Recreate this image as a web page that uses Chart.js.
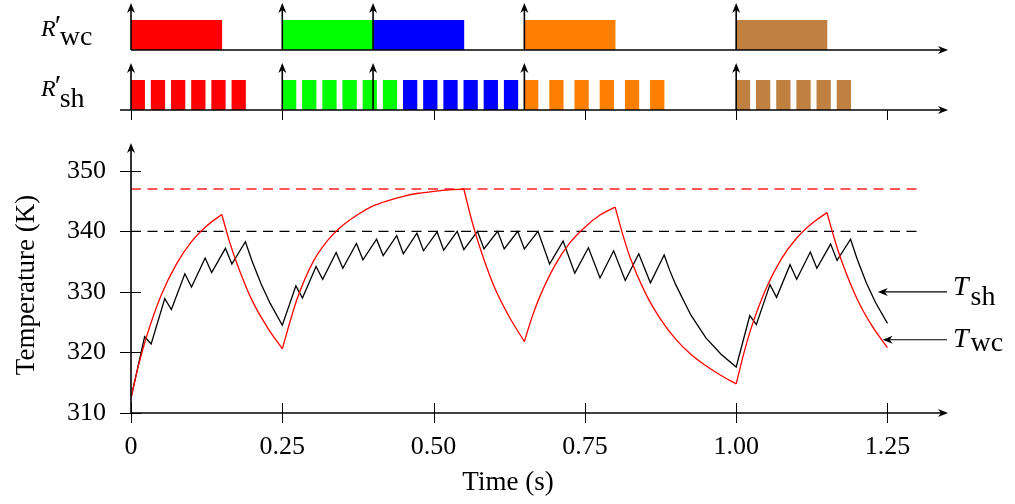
<!DOCTYPE html>
<html>
<head>
<meta charset="utf-8">
<script src="https://cdn.jsdelivr.net/npm/chart.js@4.4.1/dist/chart.umd.min.js"></script>
<style>
  body { margin: 0; background: #fff; }
  #wrap { position: relative; width: 1015px; height: 504px; }
  #wrap canvas { position: absolute; left: 0; }
</style>
</head>
<body>
<div id="wrap">
  <canvas id="wcChart" width="1015" height="60" style="top:0"></canvas>
  <canvas id="shChart" width="1015" height="62" style="top:60px"></canvas>
  <canvas id="tempChart" width="1015" height="384" style="top:120px"></canvas>
</div>
<script>
// time axis
const xMax = 1.35;
const timeTicks = [0, 0.25, 0.5, 0.75, 1.0, 1.25];
const timeTickLabels = ['0', '0.25', '0.50', '0.75', '1.00', '1.25'];
const tempTicks = [310, 320, 330, 340, 350];
const eventTimes = [0, 0.25, 0.4, 0.65, 1.0];
const phaseColors = ['#ff0000', '#00ff00', '#0000ff', '#ff8000', '#bf8040'];

// R'wc: one block per phase
const wcStart = [0, 0.25, 0.4, 0.65, 1.0];
const wcEnd = [0.15, 0.4, 0.55, 0.8, 1.15];

// R'sh: pulses per phase
const shStart = [
  [0, 0.0333, 0.0667, 0.1, 0.1333, 0.1667],
  [0.25, 0.2833, 0.3167, 0.35, 0.3833, 0.4167],
  [0.45, 0.4833, 0.5167, 0.55, 0.5833, 0.6167],
  [0.65, 0.6917, 0.7333, 0.775, 0.8167, 0.8583],
  [1.0, 1.0333, 1.0667, 1.1, 1.1333, 1.1667]
];
const shEnd = [
  [0.0225, 0.0558, 0.0892, 0.1225, 0.1558, 0.1892],
  [0.2725, 0.3058, 0.3392, 0.3725, 0.4058, 0.4392],
  [0.4725, 0.5058, 0.5392, 0.5725, 0.6058, 0.6392],
  [0.6725, 0.7142, 0.7558, 0.7975, 0.8392, 0.8808],
  [1.0225, 1.0558, 1.0892, 1.1225, 1.1558, 1.1892]
];

// T_wc (red)
const wcTime = [0, 0.0125, 0.025, 0.05, 0.075, 0.1, 0.125, 0.15,
  0.1625, 0.175, 0.2, 0.225, 0.25,
  0.2625, 0.275, 0.3, 0.325, 0.35, 0.375, 0.4, 0.425, 0.45, 0.475, 0.5, 0.525, 0.55,
  0.5625, 0.575, 0.6, 0.625, 0.65,
  0.6625, 0.675, 0.7, 0.725, 0.75, 0.775, 0.8,
  0.8125, 0.825, 0.85, 0.875, 0.9, 0.925, 0.95, 0.975, 1.0,
  1.0125, 1.025, 1.05, 1.075, 1.1, 1.125, 1.15,
  1.1625, 1.175, 1.2, 1.225, 1.25];
const wcTemp = [312.5, 317.9, 322.4, 329.5, 334.6, 338.3, 340.9, 342.8,
  338.4, 334.7, 328.6, 324.2, 320.6,
  325.0, 329.0, 334.8, 338.5, 341.0, 342.8, 344.2, 345.1, 345.8, 346.3, 346.6, 346.85, 347.0,
  342.0, 337.8, 330.9, 325.9, 321.8,
  325.8, 329.1, 334.3, 338.1, 340.7, 342.7, 344.0,
  339.5, 335.6, 329.8, 325.5, 322.2, 319.7, 317.8, 316.2, 314.8,
  319.8, 324.1, 330.7, 335.5, 338.9, 341.3, 343.1,
  338.7, 334.9, 328.8, 324.3, 320.8];

// T_sh (black)
const shTime = [0, 0.011, 0.0225, 0.0333, 0.0558, 0.0667, 0.089, 0.1, 0.1225, 0.1333, 0.156, 0.1667, 0.189,
  0.2, 0.215, 0.23, 0.25,
  0.2725, 0.2833, 0.3058, 0.3167, 0.339, 0.35, 0.3725, 0.3833, 0.4058, 0.4167, 0.439, 0.45,
  0.4725, 0.4833, 0.5058, 0.5167, 0.539, 0.55, 0.5725, 0.5833, 0.6058, 0.6167, 0.639, 0.65,
  0.6725, 0.6917, 0.714, 0.7333, 0.7558, 0.775, 0.7975, 0.8167, 0.839, 0.8583, 0.881,
  0.89, 0.9, 0.925, 0.95, 0.975, 1.0,
  1.0225, 1.0333, 1.0558, 1.0667, 1.089, 1.1, 1.1225, 1.1333, 1.156, 1.1667, 1.189,
  1.2, 1.215, 1.23, 1.25];
const shTemp = [312.5, 317.4, 322.6, 321.4, 328.9, 327.1, 333.0, 330.8, 335.6, 333.2, 337.2, 334.6, 338.3,
  335.1, 331.3, 328.1, 324.5,
  331.0, 329.0, 334.2, 332.1, 336.5, 333.9, 338.0, 335.3, 338.7, 336.0, 339.3, 336.3,
  339.7, 336.8, 339.9, 336.9, 340.0, 337.0, 340.0, 337.1, 340.0, 337.1, 340.0, 337.1,
  340.0, 334.6, 338.4, 333.1, 337.3, 332.3, 336.8, 331.9, 336.3, 331.5, 336.1,
  333.6, 331.2, 326.2, 322.4, 319.7, 317.6,
  326.1, 324.6, 331.2, 329.1, 334.5, 332.1, 336.6, 333.9, 337.9, 335.2, 338.7,
  335.4, 331.5, 328.3, 324.8];

// limits
const limitTime = [0, 1.3];
const wcLimit = [347, 347];
const shLimit = [340, 340];

const serif = "'Liberation Serif', 'Times New Roman', serif";

function arrowHead(ctx, x, y, ang) {
  ctx.save();
  ctx.translate(x, y);
  ctx.rotate(ang);
  ctx.beginPath();
  ctx.moveTo(0, 0);
  ctx.lineTo(-10, -4);
  ctx.lineTo(-7, 0);
  ctx.lineTo(-10, 4);
  ctx.closePath();
  ctx.fill();
  ctx.restore();
}

function line(ctx, x1, y1, x2, y2) {
  ctx.beginPath();
  ctx.moveTo(x1, y1);
  ctx.lineTo(x2, y2);
  ctx.stroke();
}

// italic main letter + optional prime + upright subscript
function subLabel(ctx, x, y, main, sub, o) {
  ctx.fillStyle = '#000';
  ctx.textBaseline = 'alphabetic';
  ctx.textAlign = 'left';
  ctx.font = 'italic ' + o.mainSize + 'px ' + serif;
  ctx.fillText(main, x, y);
  const w = ctx.measureText(main).width;
  if (o.prime) {
    ctx.font = '30px ' + serif;
    ctx.fillText('\u2032', x + w - 1, y - 1);
  }
  ctx.font = o.subSize + 'px ' + serif;
  ctx.fillText(sub, x + w + (o.subGap || 0), y + o.subDrop);
}

function pulsePlugin(sub, leftExtend, withTicks) {
  return {
    id: 'pulseAxes',
    afterDatasetsDraw(chart) {
      const { ctx, chartArea: a, scales: { x } } = chart;
      ctx.save();
      ctx.strokeStyle = '#000';
      ctx.fillStyle = '#000';
      ctx.lineWidth = 1.6;
      line(ctx, a.left - leftExtend, a.bottom, a.right - 4, a.bottom);
      arrowHead(ctx, a.right, a.bottom, 0);
      if (withTicks) {
        ctx.lineWidth = 1;
        timeTicks.forEach(v => {
          const px = Math.round(x.getPixelForValue(v)) + 0.5;
          line(ctx, px, a.bottom, px, a.bottom + 10);
        });
      }
      ctx.lineWidth = 1.6;
      eventTimes.forEach(t => {
        const px = x.getPixelForValue(t);
        line(ctx, px, a.bottom, px, a.top - 13);
        arrowHead(ctx, px, a.top - 17, -Math.PI / 2);
      });
      subLabel(ctx, 41, a.top + 16, 'R', sub.text,
        { mainSize: 24, subSize: 28, subDrop: sub.drop, prime: true, subGap: 4 });
      ctx.restore();
    }
  };
}

function pulseChart(id, starts, ends, sub, leftExtend, withTicks, padBottom) {
  const datasets = phaseColors.map((c, i) => ({
    data: starts[i].map((s, k) => ({ x: [s, ends[i][k]], y: 'row' })),
    backgroundColor: c,
    borderWidth: 0,
    grouped: false,
    barPercentage: 1,
    categoryPercentage: 1
  }));
  return new Chart(document.getElementById(id), {
    type: 'bar',
    data: { labels: ['row'], datasets },
    options: {
      indexAxis: 'y',
      responsive: false,
      animation: false,
      layout: { padding: { left: 131, right: 67, top: 20, bottom: padBottom } },
      scales: {
        x: { type: 'linear', min: 0, max: xMax, display: false },
        y: { display: false }
      },
      plugins: { legend: { display: false }, tooltip: { enabled: false } }
    },
    plugins: [pulsePlugin(sub, leftExtend, withTicks)]
  });
}

pulseChart('wcChart', wcStart.map(s => [s]), wcEnd.map(e => [e]), { text: 'wc', drop: 9 }, 0, false, 10);
pulseChart('shChart', shStart, shEnd, { text: 'sh', drop: 11 }, 11, true, 12);

// split a curve at its corners so each piece can be a smooth monotone spline
function monotonePieces(ts, vs) {
  const pieces = [];
  let cur = [{ x: ts[0], y: vs[0] }];
  for (let i = 1; i < ts.length; i++) {
    cur.push({ x: ts[i], y: vs[i] });
    if (i < ts.length - 1) {
      const d1 = vs[i] - vs[i - 1], d2 = vs[i + 1] - vs[i];
      if (d1 * d2 < 0) {
        pieces.push(cur);
        cur = [{ x: ts[i], y: vs[i] }];
      }
    }
  }
  pieces.push(cur);
  return pieces;
}

const toPoints = (ts, vs) => ts.map((t, i) => ({ x: t, y: vs[i] }));

const wcSets = monotonePieces(wcTime, wcTemp).map(p => ({
  data: p,
  borderColor: '#ff0000',
  borderWidth: 1.3,
  pointRadius: 0,
  cubicInterpolationMode: 'monotone',
  fill: false
}));

const axesPlugin = {
  id: 'tempAxes',
  afterDraw(chart) {
    const { ctx, chartArea: a, scales: { x, y } } = chart;
    ctx.save();
    ctx.strokeStyle = '#000';
    ctx.fillStyle = '#000';
    ctx.lineWidth = 1.6;
    line(ctx, a.left, a.bottom, a.right - 4, a.bottom);
    arrowHead(ctx, a.right, a.bottom, 0);
    line(ctx, a.left, a.bottom, a.left, a.top + 4);
    arrowHead(ctx, a.left, a.top, -Math.PI / 2);
    ctx.lineWidth = 1;
    timeTicks.forEach(v => {
      const px = Math.round(x.getPixelForValue(v)) + 0.5;
      line(ctx, px, a.bottom - 10, px, a.bottom + 10);
    });
    tempTicks.forEach(v => {
      const py = Math.round(y.getPixelForValue(v)) + 0.5;
      line(ctx, a.left - 11, py, a.left + 10, py);
    });

    // axis titles
    ctx.font = '27px ' + serif;
    ctx.textAlign = 'center';
    ctx.textBaseline = 'alphabetic';
    ctx.fillText('Time (s)', 508, 370);
    ctx.save();
    ctx.translate(34, 165);
    ctx.rotate(-Math.PI / 2);
    ctx.fillText('Temperature (K)', 0, 0);
    ctx.restore();

    // curve labels with arrows
    ctx.lineWidth = 1.2;
    const shY = y.getPixelForValue(330.0);
    line(ctx, 947, shY, x.getPixelForValue(1.234) + 4, shY);
    arrowHead(ctx, x.getPixelForValue(1.234), shY, Math.PI);
    const wcY = y.getPixelForValue(322.1);
    line(ctx, 947, wcY, x.getPixelForValue(1.242) + 4, wcY);
    arrowHead(ctx, x.getPixelForValue(1.242), wcY, Math.PI);
    subLabel(ctx, 953, 175, 'T', 'sh', { mainSize: 28, subSize: 28, subDrop: 10, subGap: 2 });
    subLabel(ctx, 953, 227, 'T', 'wc', { mainSize: 28, subSize: 28, subDrop: 4, subGap: 2 });
    ctx.restore();
  }
};

new Chart(document.getElementById('tempChart'), {
  type: 'line',
  data: {
    datasets: [
      ...wcSets,
      {
        data: toPoints(shTime, shTemp),
        borderColor: '#000',
        borderWidth: 1.3,
        pointRadius: 0,
        tension: 0,
        fill: false
      },
      {
        data: toPoints(limitTime, wcLimit),
        borderColor: '#ff2020',
        borderWidth: 1.6,
        borderDash: [10, 6.5],
        pointRadius: 0,
        fill: false
      },
      {
        data: toPoints(limitTime, shLimit),
        borderColor: '#000',
        borderWidth: 1.4,
        borderDash: [10, 6.5],
        pointRadius: 0,
        fill: false
      }
    ]
  },
  options: {
    responsive: false,
    animation: false,
    layout: { padding: { left: 0, right: 67, top: 23, bottom: 0 } },
    scales: {
      x: {
        type: 'linear',
        min: 0,
        max: xMax,
        afterFit: s => { s.height = 91; s.paddingLeft = 0; s.paddingRight = 0; },
        afterBuildTicks: s => { s.ticks = timeTicks.map(v => ({ value: v })); },
        grid: { display: false, drawTicks: false },
        border: { display: false },
        ticks: {
          autoSkip: false,
          maxRotation: 0,
          padding: 19,
          color: '#000',
          font: { family: serif, size: 26 },
          callback: (v, i) => timeTickLabels[i]
        }
      },
      y: {
        min: 310,
        max: 354.6,
        afterFit: s => { s.width = 131; s.paddingTop = 0; s.paddingBottom = 0; },
        afterBuildTicks: s => { s.ticks = tempTicks.map(v => ({ value: v })); },
        grid: { display: false, drawTicks: false },
        border: { display: false },
        ticks: {
          padding: 25,
          color: '#000',
          font: { family: serif, size: 26 }
        }
      }
    },
    plugins: { legend: { display: false }, tooltip: { enabled: false } }
  },
  plugins: [axesPlugin]
});
</script>
</body>
</html>
